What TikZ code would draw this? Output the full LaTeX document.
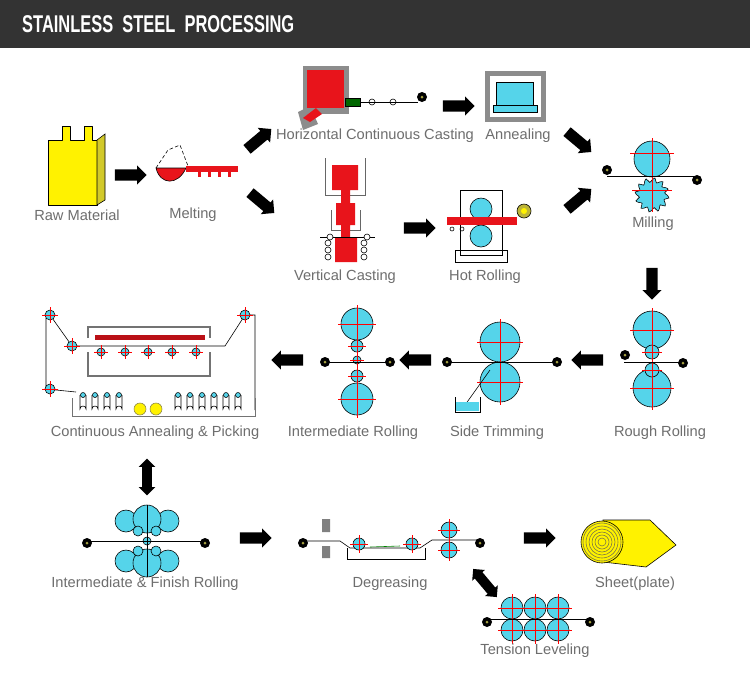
\documentclass[tikz,border=0pt]{standalone}
\usepackage{fontspec}
\setmainfont{Liberation Sans}
\usetikzlibrary{shapes.arrows,calc}
\definecolor{rollblue}{HTML}{55D4EA}
\definecolor{labelgray}{HTML}{6E6E6E}
\definecolor{steelred}{HTML}{E8141B}
\tikzset{
  lbl/.style={text=labelgray,font=\fontsize{12.5}{13}\selectfont},
  bigarrow/.style={single arrow,fill=black,inner xsep=0pt,inner ysep=0.16cm,
    minimum height=0.95cm,single arrow head extend=0.12cm,single arrow tip angle=90},
  twoarrow/.style={double arrow,fill=black,inner xsep=0pt,inner ysep=0.14cm,
    minimum height=1.1cm,double arrow head extend=0.1cm}
}
% roller with red cross: x, y, radius
\newcommand\roll[3]{\draw[fill=rollblue] (#1,#2) circle[radius=#3];
  \draw[red] (#1,#2) ++({-#3-3},0) -- ++({2*#3+6},0);
  \draw[red] (#1,#2) ++(0,{-#3-3}) -- ++(0,{2*#3+6});}
% plain roller
\newcommand\prl[3]{\draw[fill=rollblue] (#1,#2) circle[radius=#3];}
% coil
\newcommand\coil[2]{\fill (#1,#2) circle[radius=5];\fill[yellow!60!black] (#1,#2) circle[radius=1.5];}
\begin{document}
\begin{tikzpicture}[x=0.03cm,y=-0.03cm,line width=0.5pt]
\useasboundingbox (0,0) rectangle (750,692);
\fill[white] (0,0) rectangle (750,692);
\fill[black!80] (0,0) rectangle (750,48);
\node[anchor=west,text=white,font=\bfseries\fontsize{18}{19}\selectfont] (title) at (18,24)
  {\scalebox{0.78}[1.15]{STAINLESS\ \ STEEL\ \ PROCESSING}};

% raw material
\draw[fill=yellow,line join=round] (48,140) -- (62,140) -- (62,126) -- (70,126) -- (70,140) -- (84,140)
  -- (84,126) -- (92,126) -- (92,140) -- (97,140) -- (97,205) -- (48,205) -- cycle;
\draw[fill=yellow!80!black] (97,140) -- (105,134) -- (105,200) -- (97,205) -- cycle;
\node[lbl] (raw) at (77,215) {Raw Material};
% melting
\draw[fill=steelred] (156,168) .. controls (160,185) and (178,186) .. (186,168) -- cycle;
\draw[densely dashed] (156,168) -- (168,150) -- (180,145) -- (188,166);
\fill[steelred] (186,166) rectangle (238,172);
\foreach \t in {198,208,218,228} \fill[steelred] (\t,172) rectangle (\t+3,177);
\node[lbl] (melt) at (193,215) {Melting};
% horizontal continuous casting
\fill[black!45] (303,66) rectangle (349,114);
\fill[black!45] (298,112) -- (310,106) -- (318,124) -- (303,130) -- cycle;
\fill[steelred] (307,70) rectangle (344,108);
\fill[steelred] (303,118) -- (316,108) -- (322,114) -- (310,122) -- cycle;
\draw[fill=green!40!black] (345,98) rectangle (360,106);
\draw (360,102) -- (418,102);
\foreach \t in {372,393} \draw (\t,102) circle[radius=3];
\coil{422}{97}
\node[lbl] (hcc) at (375,136) {Horizontal Continuous Casting};
% annealing
\fill[black!45] (485,71) rectangle (546,122);
\fill[white] (490,76) rectangle (541,117);
\draw[fill=rollblue] (496,82) rectangle (533,105);
\draw[fill=rollblue] (493,105) rectangle (537,112);
\node[lbl] (anneal) at (518,136) {Annealing};
% vertical casting
\draw[black!60] (325,158) -- (325,195) -- (365,195) -- (365,158);
\draw[black!60] (331,210) -- (331,230) -- (360,230) -- (360,210);
\fill[steelred] (332,165) rectangle (358,190) (341,190) rectangle (350,203)
  (336,203) rectangle (355,225) (341,225) rectangle (350,237) (335,237) rectangle (357,262);
\draw (320,237) -- (375,237);
\foreach \t in {330,367} \draw[fill=white] (\t,237) circle[radius=3];
\foreach \t in {243,250,257} {\draw (328,\t) circle[radius=3]; \draw (364,\t) circle[radius=3];}
\node[lbl] (vcast) at (345,277) {Vertical Casting};
% hot rolling
\draw (460,190) rectangle (502,255);
\draw (455,250) rectangle (507,262);
\prl{481}{209}{11}\prl{481}{236}{11}
\fill[steelred] (447,217) rectangle (517,225);
\foreach \t in {452,462} \draw (\t,229) circle[radius=2];
\draw[fill=yellow!70!black] (524,211) circle[radius=7];\fill[yellow] (524,211) circle[radius=3];
\node[lbl] (hot) at (485,277) {Hot Rolling};
% milling
\prl{652}{159}{18}
\draw[fill=rollblue] plot[smooth cycle,domain=0:350,samples=36]
  ({652+(15+2.5*sin(12*\x))*cos(\x)},{195+(15+2.5*sin(12*\x))*sin(\x)});
\draw[red] (630,153) -- (674,153) (632,190) -- (672,190) (652,138) -- (652,212);
\draw (607,176) -- (695,176);
\coil{607}{170}\coil{697}{180}
\node[lbl] (mill) at (653,224) {Milling};

% rough rolling
\roll{652}{330}{19}\roll{652}{388}{19}\roll{652}{352}{7}\roll{652}{370}{7}
\draw (624,362) -- (680,362);
\coil{625}{355}\coil{683}{363}
\node[lbl] (rough) at (660,433) {Rough Rolling};
% side trimming
\roll{500}{342}{20}\roll{500}{382}{20}
\draw (447,362) -- (557,362);
\draw (490,370) -- (465,405);
\draw (455,397) -- (455,412) -- (480,412) -- (480,397);
\fill[rollblue] (456,402) rectangle (479,411);
\coil{447}{362}\coil{557}{362}
\node[lbl] (trim) at (497,433) {Side Trimming};
% intermediate rolling
\roll{357}{324}{16}\roll{357}{399}{16}
\roll{357}{346}{6}\roll{357}{360}{4}\roll{357}{376}{6}
\draw (325,362) -- (390,362);
\coil{325}{362}\coil{390}{362}
\node[lbl] (inter) at (353,433) {Intermediate Rolling};
% continuous annealing & picking
\draw[black!55,line width=1.2pt] (88,338) -- (88,327) -- (210,327) -- (210,338)
  (88,352) -- (88,376) -- (210,376) -- (210,352);
\fill[steelred!80!black] (95,335) rectangle (205,340);
\draw (50,315) -- (72,346) -- (225,346) -- (245,315) -- (255,315) -- (255,410)
  (50,315) -- (46,318) -- (46,389) -- (76,392);
\roll{50}{315}{5}\roll{72}{346}{5}\roll{245}{315}{5}\roll{50}{389}{5}
\foreach \t in {101,125,148,172,196} \roll{\t}{352}{4}
\draw[black!55] (72,398) -- (72,416) -- (255,416) -- (255,398);
\foreach \t in {80,92,104,116,175,187,199,211,223,235}
  \draw (\t,395) -- (\t,409) arc(180:360:3) -- (\t+6,395);
\foreach \t in {80,92,104,116,175,187,199,211,223,235} \draw[fill=rollblue] (\t+3,395) circle[radius=2.5];
\draw[fill=yellow,draw=yellow!50!black] (140,409) circle[radius=6] (156,409) circle[radius=6];
\node[lbl] (cap) at (155,433) {Continuous Annealing \& Picking};

% intermediate & finish rolling
\prl{126}{521}{11}\prl{168}{521}{11}\prl{147}{519}{14}\prl{138}{531}{5}\prl{156}{531}{5}
\prl{126}{561}{11}\prl{168}{561}{11}\prl{147}{563}{14}\prl{138}{551}{5}\prl{156}{551}{5}
\prl{147}{541}{4}
\draw (147,505) -- (147,577);
\draw (87,541) -- (205,541);
\coil{87}{543}\coil{205}{543}
\node[lbl] (ifr) at (145,584) {Intermediate \& Finish Rolling};
% degreasing
\fill[black!50] (322,519) rectangle (330,532) (322,546) rectangle (330,558);
\draw (347,548) -- (347,559) -- (425,559) -- (425,548);
\draw (303,541) -- (340,541) -- (350,548) -- (420,548) -- (432,540) -- (480,540);
\draw[green!50!black] (370,547) -- (400,546);
\roll{359}{544}{6}\roll{412}{544}{6}\roll{449}{530}{8}\roll{449}{550}{8}
\coil{303}{543}\coil{480}{543}
\node[lbl] (degr) at (390,584) {Degreasing};
% tension leveling
\foreach \t in {512,535,558} {\roll{\t}{608}{11}\roll{\t}{630}{11}}
\draw (487,619) -- (590,619);
\coil{487}{622}\coil{590}{622}
\node[lbl] (tens) at (535,651) {Tension Leveling};
% sheet
\draw[fill=yellow] (603,520) -- (650,520) -- (676,545) -- (646,567) -- (603,562) -- cycle;
\draw[fill=yellow] (602,542) circle[radius=21];
\foreach \r in {4,7,10,13,16,19} \draw[yellow!40!black] (602,542) circle[radius=\r];
\fill[yellow] (602,542) circle[radius=3];
\node[lbl] (sheet) at (635,584) {Sheet(plate)};

% flow arrows
\node[bigarrow] (a1) at (128,175) {};
\node[bigarrow,rotate=40] (a2) at (257,141) {};
\node[bigarrow,rotate=-40] (a3) at (260,201) {};
\node[bigarrow] (a4) at (456,106) {};
\node[bigarrow] (a5) at (417,228) {};
\node[bigarrow,rotate=-40] (a6) at (577,140) {};
\node[bigarrow,rotate=40] (a7) at (577,201) {};
\node[bigarrow,rotate=-90] (a8) at (652,281) {};
\node[bigarrow,rotate=180] (a9) at (590,360) {};
\node[bigarrow,rotate=180] (a10) at (418,360) {};
\node[bigarrow,rotate=180] (a11) at (290,360) {};
\node[twoarrow,rotate=90] (a12) at (147,477) {};
\node[bigarrow] (a13) at (253,538) {};
\node[bigarrow] (a14) at (537,538) {};
\node[twoarrow,rotate=-50] (a15) at (485,583) {};
\end{tikzpicture}
\end{document}
